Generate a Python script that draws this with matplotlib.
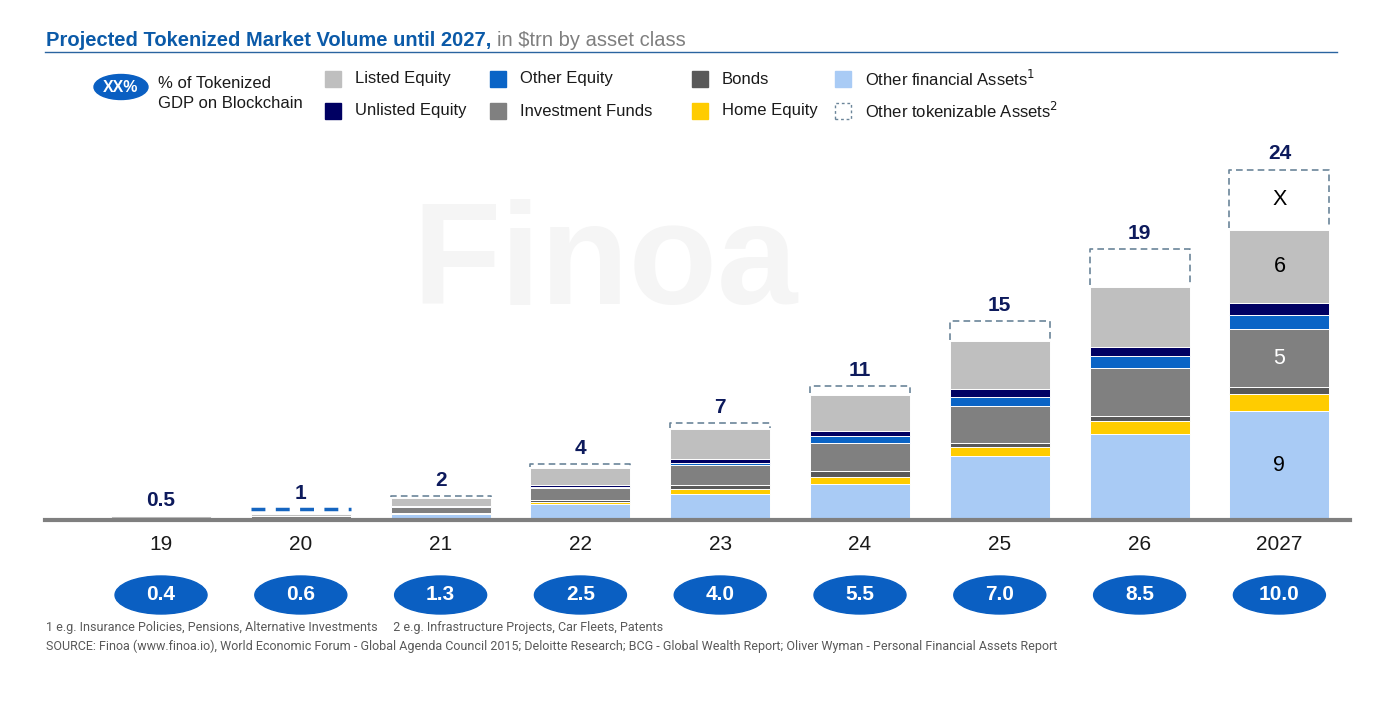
import matplotlib
matplotlib.use("Agg")
import matplotlib.pyplot as plt
import numpy as np
from matplotlib.patches import Ellipse, Rectangle
from matplotlib.lines import Line2D

plt.rcParams['font.family'] = ['Liberation Sans', 'DejaVu Sans']

# data (bar heights, in chart units)
years = ['19', '20', '21', '22', '23', '24', '25', '26', '2027']
totals = ['0.5', '1', '2', '4', '7', '11', '15', '19', '24']
gdp_share = ['0.4', '0.6', '1.3', '2.5', '4.0', '5.5', '7.0', '8.5', '10.0']

other_fin = [0.0, 0.0, 0.5, 1.3, 2.2, 3.0, 5.35, 7.2, 9.1]
home_eq = [0.0, 0.0, 0.05, 0.2, 0.35, 0.6, 0.75, 1.05, 1.4]
bonds = [0.0, 0.15, 0.05, 0.2, 0.35, 0.5, 0.3, 0.45, 0.55]
inv_funds = [0.0, 0.15, 0.45, 0.95, 1.7, 2.35, 3.1, 4.0, 4.9]
other_eq = [0.0, 0.0, 0.1, 0.1, 0.15, 0.55, 0.75, 0.95, 1.15]
unlisted = [0.0, 0.0, 0.05, 0.2, 0.3, 0.45, 0.65, 0.8, 0.95]
listed = [0.3, 0.2, 0.6, 1.4, 2.5, 3.0, 4.0, 5.0, 6.15]
tokenizable = [0.0, 0.4, 0.2, 0.3, 0.55, 0.75, 1.65, 3.1, 5.0]

series = [
    ('Other financial Assets', other_fin, '#a9cbf5'),
    ('Home Equity', home_eq, '#ffcc00'),
    ('Bonds', bonds, '#595959'),
    ('Investment Funds', inv_funds, '#808080'),
    ('Other Equity', other_eq, '#0a64c6'),
    ('Unlisted Equity', unlisted, '#000062'),
    ('Listed Equity', listed, '#bfbfbf'),
]

W, H = 1400, 713
fig = plt.figure(figsize=(14, 7.13), dpi=100)


def fx(px):
    return px / W


def fy(py):
    return 1 - py / H


# axes: x 45..1350 px, y baseline 520 px up to 140 px
ax = fig.add_axes([fx(45), fy(520), fx(1350) - fx(45), fy(140) - fy(520)])
x = np.arange(len(years))
ax.set_xlim(-0.83, 8.505)
ax.set_ylim(0, 380 / 12)
for s in ax.spines.values():
    s.set_visible(False)
ax.set_yticks([])
ax.set_xticks(x)
ax.set_xticklabels(years, fontsize=15, color='#1a1a1a')
ax.tick_params(axis='x', length=0, pad=11)

# watermark
fig.text(fx(605), fy(266), 'Finoa', fontsize=104, fontweight='bold', color='#f5f5f5',
         ha='center', va='center', zorder=0)

bw = 0.715
bottom = np.zeros(len(years))
for name, vals, col in series:
    v = np.array(vals)
    ax.bar(x, v, bw, bottom=bottom, color=col, edgecolor='white', linewidth=0.7, zorder=2)
    bottom += v

# dashed boxes for other tokenizable assets
box_col = ['#6b8599'] * len(years)
box_lw = [1.2] * len(years)
box_col[1] = '#1565c0'
box_lw[1] = 2.5
tops = bottom + np.array(tokenizable)
for i in range(len(years)):
    if tokenizable[i] > 0:
        l, r = x[i] - bw / 2, x[i] + bw / 2
        b, t = bottom[i] + 0.1, tops[i]
        if i == 1:
            ax.plot([l, r], [t, t], color=box_col[i], lw=box_lw[i], ls=(0, (4, 3)), zorder=3)
        else:
            ax.plot([l, l, r, r], [b, t, t, b], color=box_col[i], lw=box_lw[i],
                    ls=(0, (4, 2.5)), zorder=3)
    ax.text(x[i], tops[i] + 1.3, totals[i], ha='center', va='center', fontsize=15,
            fontweight='bold', color='#0d1a5c')

# labels inside the 2027 bar
seg_lbl = [('9', 0, 'black'), ('5', 3, 'white'), ('6', 6, 'black')]
cum = np.cumsum([s[1][-1] for s in series])
for txt, k, c in seg_lbl:
    lo = cum[k - 1] if k > 0 else 0
    ax.text(x[-1], (lo + cum[k]) / 2, txt, ha='center', va='center', fontsize=15.5, color=c)
ax.text(x[-1], (cum[-1] + tops[-1]) / 2, 'X', ha='center', va='center', fontsize=15.5, color='black')

# baseline
ax.axhline(0, color='#7f7f7f', lw=3, zorder=4, clip_on=False)

# GDP share badges
for i in range(len(years)):
    e = Ellipse((x[i], -75 / 12), 92 / 139.8, 38 / 12, color='#0a5fc2', clip_on=False, zorder=3)
    ax.add_patch(e)
    ax.text(x[i], -75 / 12, gdp_share[i], ha='center', va='center', fontsize=15,
            fontweight='bold', color='white', zorder=4)

# title
t1 = fig.text(fx(46), fy(40), 'Projected Tokenized Market Volume until 2027,', fontsize=14.5,
              fontweight='bold', color='#0b5aa8', ha='left', va='center')
fig.canvas.draw()
bb = t1.get_window_extent()
fig.text(bb.x1 / W + fx(6), fy(40), 'in $trn by asset class', fontsize=14.5, color='#7f7f7f',
         ha='left', va='center')
fig.add_artist(Line2D([fx(45), fx(1337)], [fy(52), fy(52)], color='#2a64a0', lw=1))

# legend
fig.add_artist(Ellipse((fx(121), fy(87)), 54 / W, 25 / H, color='#0a5fc2'))
fig.text(fx(121), fy(87), 'XX%', ha='center', va='center', fontsize=11.5, fontweight='bold',
         color='white')
fig.text(fx(158), fy(83), '% of Tokenized', ha='left', va='center', fontsize=12, color='#1a1a1a')
fig.text(fx(158), fy(103), 'GDP on Blockchain', ha='left', va='center', fontsize=12, color='#1a1a1a')

legend_items = [
    ('Listed Equity', '#bfbfbf', 325, 79),
    ('Unlisted Equity', '#000062', 325, 111),
    ('Other Equity', '#0a64c6', 490, 79),
    ('Investment Funds', '#808080', 490, 111),
    ('Bonds', '#595959', 692, 79),
    ('Home Equity', '#ffcc00', 692, 111),
    ('Other financial Assets$^1$', '#a9cbf5', 835, 79),
    ('Other tokenizable Assets$^2$', None, 835, 111),
]
for lbl, col, px, py in legend_items:
    if col is None:
        r = Rectangle((fx(px), fy(py + 8)), 16 / W, 16 / H, transform=fig.transFigure,
                      fill=False, edgecolor='#6b8599', ls=(0, (2, 2)), lw=1)
    else:
        r = Rectangle((fx(px), fy(py + 8)), 16 / W, 16 / H, transform=fig.transFigure,
                      color=col)
    fig.add_artist(r)
    fig.text(fx(px + 30), fy(py), lbl, ha='left', va='center', fontsize=12, color='#1a1a1a')

# footnotes
foot = ['Roboto', 'DejaVu Sans']
fig.text(fx(46), fy(628), '1 e.g. Insurance Policies, Pensions, Alternative Investments     '
         '2 e.g. Infrastructure Projects, Car Fleets, Patents',
         ha='left', va='center', fontsize=9, color='#595959', family=foot)
fig.text(fx(46), fy(646), 'SOURCE: Finoa (www.finoa.io), World Economic Forum - Global Agenda Council 2015; '
         'Deloitte Research; BCG - Global Wealth Report; Oliver Wyman - Personal Financial Assets Report',
         ha='left', va='center', fontsize=9, color='#595959', family=foot)

fig.savefig('out.png', dpi=100)
